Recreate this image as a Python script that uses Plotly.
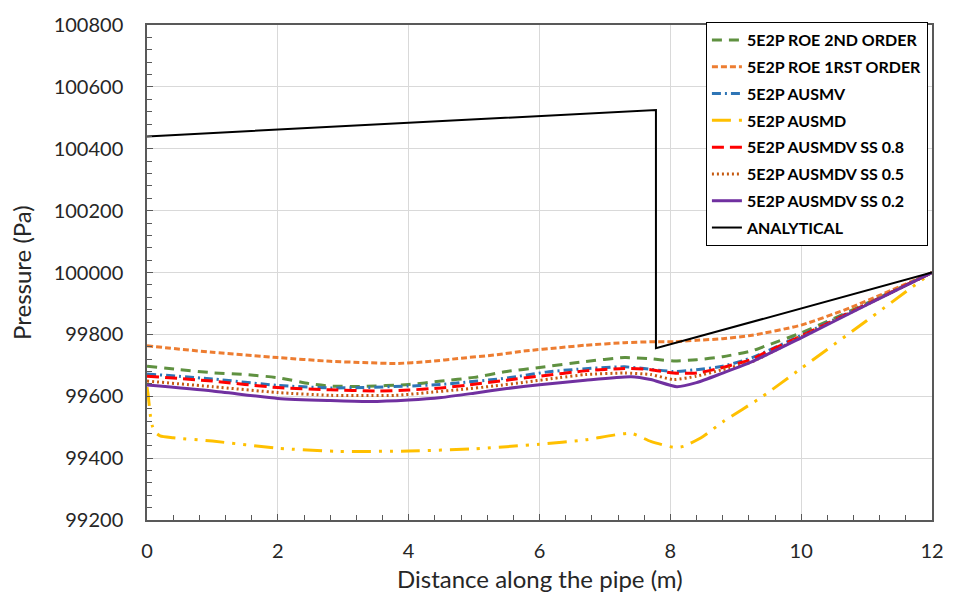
import plotly.graph_objects as go

# ---- data ----
x_roe2 = [0, 0.5, 1, 1.5, 2, 2.5, 2.8, 3.3, 4, 4.5, 5, 5.5, 6, 6.7, 7.3, 7.7, 8.05, 8.4, 8.8, 9.25, 9.5, 10, 11, 12]
y_roe2 = [99697, 99686, 99676, 99670, 99660, 99640, 99633, 99632, 99638, 99649, 99661, 99680, 99693, 99712, 99725, 99721, 99714, 99718, 99728, 99747, 99766, 99805, 99900, 100000]

x_roe1 = [0, 1, 2, 2.8, 3.3, 3.8, 4.3, 4.8, 5.3, 5.8, 6.3, 6.7, 7.3, 7.7, 8.05, 8.4, 8.8, 9.25, 10, 10.76, 12]
y_roe1 = [99763, 99742, 99725, 99713, 99709, 99706, 99712, 99723, 99733, 99747, 99757, 99765, 99773, 99776, 99776, 99781, 99786, 99797, 99830, 99887, 100000]

x_ausmv = [0, 1, 2, 2.8, 3.3, 4, 4.5, 4.9, 5.3, 5.7, 6.1, 6.5, 7.3, 7.7, 8.05, 8.4, 8.8, 9.25, 10, 11, 12]
y_ausmv = [99672, 99656, 99635, 99627, 99628, 99633, 99638, 99646, 99654, 99665, 99678, 99686, 99695, 99687, 99680, 99686, 99697, 99725, 99797, 99898, 100000]

x_ausmd = [0, 0.02, 0.05, 0.08, 0.12, 0.2, 0.4, 1, 2, 2.9, 4, 5, 6, 6.7, 7.4, 7.7, 8.05, 8.2, 8.5, 8.8, 9.4, 10, 11, 12]
y_ausmd = [99630, 99600, 99540, 99505, 99485, 99472, 99466, 99455, 99432, 99422, 99423, 99430, 99445, 99459, 99480, 99454, 99435, 99438, 99470, 99517, 99598, 99690, 99844, 100000]

x_ss08 = [0, 1, 2, 2.8, 3.5, 4, 4.5, 4.9, 5.5, 6, 6.7, 7.3, 7.7, 8.05, 8.4, 8.8, 9.25, 9.45, 10, 11, 12]
y_ss08 = [99665, 99649, 99628, 99621, 99617, 99620, 99627, 99636, 99652, 99665, 99682, 99690, 99686, 99675, 99675, 99693, 99720, 99741, 99795, 99897, 100000]

x_ss05 = [0, 1, 2, 2.8, 3.8, 4.3, 4.8, 5.3, 5.8, 6.3, 6.7, 7.3, 7.7, 8.05, 8.4, 8.8, 9.25, 10, 11, 12]
y_ss05 = [99649, 99631, 99612, 99603, 99603, 99612, 99622, 99633, 99646, 99660, 99670, 99675, 99670, 99654, 99665, 99686, 99712, 99792, 99896, 100000]

x_ss02 = [0, 1, 2, 2.8, 3.4, 4, 4.5, 5, 5.5, 6, 6.7, 7.4, 7.7, 8.1, 8.4, 8.8, 9.25, 10, 11, 12]
y_ss02 = [99636, 99617, 99593, 99586, 99583, 99588, 99596, 99610, 99625, 99637, 99652, 99663, 99654, 99631, 99644, 99675, 99712, 99789, 99895, 100000]

x_anal = [0, 7.78, 7.78, 12]
y_anal = [100440, 100525, 99755, 100000]

series = [
    ("5E2P ROE 2ND ORDER", x_roe2, y_roe2, "#5f9140", "10px,7px", 3),
    ("5E2P ROE 1RST ORDER", x_roe1, y_roe1, "#ED7D31", "6px,3px", 3),
    ("5E2P AUSMV", x_ausmv, y_ausmv, "#2E75B6", "9px,4px,2px,4px", 3),
    ("5E2P AUSMD", x_ausmd, y_ausmd, "#FFC000", "19px,8px,3px,8px,3px,8px", 3),
    ("5E2P AUSMDV SS 0.8", x_ss08, y_ss08, "#FF0000", "12px,6px", 3),
    ("5E2P AUSMDV SS 0.5", x_ss05, y_ss05, "#C55A11", "2px,3px", 3),
    ("5E2P AUSMDV SS 0.2", x_ss02, y_ss02, "#7030A0", "solid", 3),
]

fig = go.Figure()
for name, xs, ys, col, dash, w in series:
    fig.add_trace(go.Scatter(
        x=xs, y=ys, mode="lines", name=name, legendgroup=name,
        line=dict(color=col, dash=dash, width=w, shape="spline", smoothing=0.6),
    ))
fig.add_trace(go.Scatter(
    x=x_anal, y=y_anal, mode="lines", name="ANALYTICAL", legendgroup="ANALYTICAL",
    line=dict(color="black", width=2),
))

axis_common = dict(
    showline=True, linecolor="#595959", linewidth=1.5, mirror=True,
    showgrid=True, gridcolor="#d9d9d9", gridwidth=1,
    ticks="inside", ticklen=6, tickcolor="#595959",
    tickfont=dict(family="Lato", size=20, color="#262626"),
    zeroline=False,
)

fig.update_xaxes(
    range=[0, 12], dtick=2, tick0=0,
    minor=dict(ticks="inside", ticklen=5, dtick=0.4, tickcolor="#595959", showgrid=False),
    ticklabelstandoff=12,
    **axis_common,
)
fig.update_yaxes(
    range=[99200, 100800], dtick=200, tick0=99200, tickformat="d",
    minor=dict(ticks="inside", ticklen=5, dtick=40, tickcolor="#595959", showgrid=False),
    ticklabelstandoff=18,
    **axis_common,
)

fig.add_annotation(
    text="Pressure (Pa)", xref="paper", yref="paper", x=-0.16, y=0.5,
    xanchor="center", yanchor="middle", textangle=-90, showarrow=False,
    font=dict(family="Lato", size=24, color="#262626"),
)
fig.add_annotation(
    text="Distance along the pipe (m)", xref="paper", yref="paper", x=0.5, y=-0.119,
    xanchor="center", yanchor="middle", showarrow=False,
    font=dict(family="Lato", size=24, color="#262626"),
)

fig.update_layout(
    width=956, height=603,
    margin=dict(l=147, r=14, t=15, b=83),
    plot_bgcolor="white", paper_bgcolor="white",
    showlegend=True,
    legend=dict(
        x=0.712, y=1.006, xanchor="left", yanchor="top",
        bordercolor="black", borderwidth=1, bgcolor="white",
        font=dict(family="Lato", size=16, color="black", weight="bold"),
        tracegroupgap=3, itemwidth=30,
    ),
)

fig.write_html("out.html")
